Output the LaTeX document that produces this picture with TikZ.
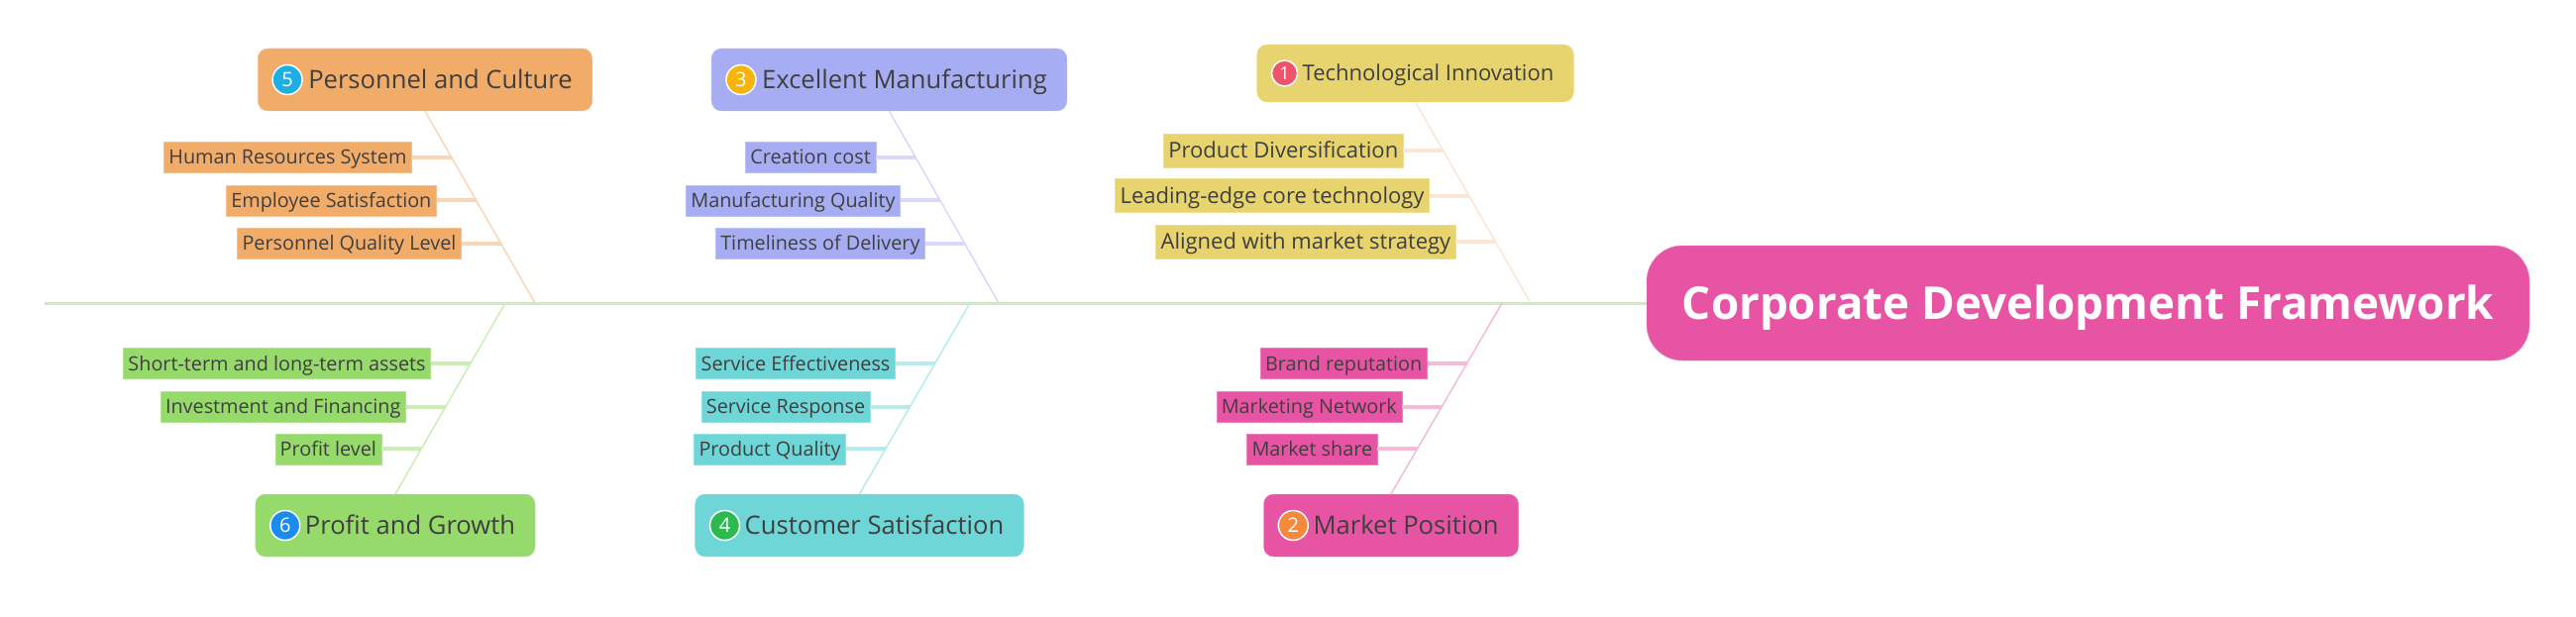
\documentclass[tikz,border=0pt]{standalone}
\usepackage{fontspec}
\setmainfont{Open Sans}
\usetikzlibrary{positioning,calc}

\definecolor{inkgray}{HTML}{3F3F3F}
\definecolor{rootpink}{HTML}{E854A4}
\definecolor{spinegreen}{HTML}{C9EEB6}
% box colours
\definecolor{colA}{HTML}{E8D46E}
\definecolor{colB}{HTML}{E854A4}
\definecolor{colC}{HTML}{A6ADF2}
\definecolor{colD}{HTML}{6FD6D7}
\definecolor{colE}{HTML}{F2AC6A}
\definecolor{colF}{HTML}{95DA6B}
% badge colours
\definecolor{numA}{HTML}{F1536A}
\definecolor{numB}{HTML}{F5893C}
\definecolor{numC}{HTML}{F7B30A}
\definecolor{numD}{HTML}{2BBA4E}
\definecolor{numE}{HTML}{1FAEE3}
\definecolor{numF}{HTML}{1B8BEF}
% line colours
\definecolor{twigA}{HTML}{FBE6D6}
\definecolor{twigB}{HTML}{F5B9DA}
\definecolor{twigC}{HTML}{D6D9FA}
\definecolor{twigD}{HTML}{B4ECEC}
\definecolor{twigE}{HTML}{F8D6B8}
\definecolor{twigF}{HTML}{CBEEB5}

\tikzset{
  rootbox/.style={rounded corners=36pt, fill=rootpink, draw=rootpink!70!white,
    text=white, minimum width=891pt, minimum height=116pt,
    text height=33pt, text depth=0pt,
    font=\bfseries\fontsize{45.7pt}{54pt}\selectfont},
  spine/.style={draw=spinegreen, line width=3pt},
  cat/.style={rounded corners=10pt, fill=#1, draw=#1!80!white, text=inkgray,
    minimum height=63pt, inner xsep=20pt, inner ysep=0pt,
    text height=18.5pt, text depth=0pt,
    font=\fontsize{25.6pt}{30pt}\selectfont},
  badge/.style={circle, fill=#1, draw=white, line width=1.5pt, minimum size=30pt,
    inner sep=0pt, text=white, font=\fontsize{20pt}{24pt}\selectfont},
  leaf/.style={fill=#1, draw=#1!75!white, text=inkgray, minimum height=31pt,
    inner xsep=5pt, inner ysep=0pt, text height=14pt, text depth=0pt,
    font=\fontsize{19.8pt}{24pt}\selectfont},
  bone/.style={draw=#1, line width=1.5pt},
  twig/.style={draw=#1, line width=4pt},
}

\begin{document}
\begin{tikzpicture}[x=1pt, y=-1pt]
  \useasboundingbox (0,0) rectangle (2600,623);

  % Head
  \node[rootbox] (root) at (2107.5,306) {Corporate Development Framework};

  % Spine
  \coordinate (tail) at (45,306);
  \draw[spine] (tail) -- (root.west);

  % Upper categories
  \node[cat=colE] (c5) at (429,80.5) {\hspace*{31pt}Personnel and Culture};
  \node[cat=colC] (c3) at (897.5,80.5) {\hspace*{31pt}Excellent Manufacturing};
  \node[cat=colA, minimum height=58pt, text height=16pt, font=\fontsize{22pt}{26pt}\selectfont] (c1) at (1428.5,74) {\hspace*{26pt}Technological Innovation};

  % Lower categories
  \node[cat=colF] (c6) at (399,530.5) {\hspace*{30pt}Profit and Growth};
  \node[cat=colD] (c4) at (867.5,530.5) {\hspace*{30pt}Customer Satisfaction};
  \node[cat=colB] (c2) at (1404,530.5) {\hspace*{30pt}Market Position};

  % Badges
  \node[badge=numE] (b5) at ([xshift=30pt]c5.west) {5};
  \node[badge=numC] (b3) at ([xshift=30pt]c3.west) {3};
  \node[badge=numA, minimum size=26pt, font=\fontsize{18pt}{22pt}\selectfont] (b1) at ([xshift=28pt]c1.west) {1};
  \node[badge=numF] (b6) at ([xshift=30pt]c6.west) {6};
  \node[badge=numD] (b4) at ([xshift=30pt]c4.west) {4};
  \node[badge=numB] (b2) at ([xshift=30pt]c2.west) {2};

  % Bones meeting the spine
  \coordinate (s5) at (540,306);
  \coordinate (s3) at (1008,306);
  \coordinate (s1) at (1545,306);
  \coordinate (s6) at (510,306);
  \coordinate (s4) at (979,306);
  \coordinate (s2) at (1516,306);
  \draw[bone=twigE] (c5.south) -- (s5);
  \draw[bone=twigC] (c3.south) -- (s3);
  \draw[bone=twigA] (c1.south) -- (s1);
  \draw[bone=twigF] (c6.north) -- (s6);
  \draw[bone=twigD] (c4.north) -- (s4);
  \draw[bone=twigB] (c2.north) -- (s2);

  % Leaves of the upper bones
  \foreach \pos/\lbl [count=\i] in {0.24/Human Resources System, 0.465/Employee Satisfaction, 0.69/Personnel Quality Level} {
    \coordinate (p5\i) at ($(c5.south)!\pos!(s5)$);
    \node[leaf=colE, left=40pt of p5\i] (l5\i) {\lbl};
    \draw[twig=twigE] (l5\i) -- (p5\i);
  }
  \foreach \pos/\lbl [count=\i] in {0.24/Creation cost, 0.465/Manufacturing Quality, 0.69/Timeliness of Delivery} {
    \coordinate (p3\i) at ($(c3.south)!\pos!(s3)$);
    \node[leaf=colC, left=40pt of p3\i] (l3\i) {\lbl};
    \draw[twig=twigC] (l3\i) -- (p3\i);
  }
  \foreach \pos/\lbl [count=\i] in {0.24/Product Diversification, 0.465/Leading-edge core technology, 0.695/Aligned with market strategy} {
    \coordinate (p1\i) at ($(c1.south)!\pos!(s1)$);
    \node[leaf=colA, minimum height=34pt, text height=15.5pt, font=\fontsize{22pt}{26pt}\selectfont, left=40pt of p1\i] (l1\i) {\lbl};
    \draw[twig=twigA] (l1\i) -- (p1\i);
  }

  % Leaves of the lower bones
  \foreach \pos/\lbl [count=\i] in {0.683/Short-term and long-term assets, 0.456/Investment and Financing, 0.235/Profit level} {
    \coordinate (p6\i) at ($(c6.north)!\pos!(s6)$);
    \node[leaf=colF, left=40pt of p6\i] (l6\i) {\lbl};
    \draw[twig=twigF] (l6\i) -- (p6\i);
  }
  \foreach \pos/\lbl [count=\i] in {0.683/Service Effectiveness, 0.456/Service Response, 0.235/Product Quality} {
    \coordinate (p4\i) at ($(c4.north)!\pos!(s4)$);
    \node[leaf=colD, left=40pt of p4\i] (l4\i) {\lbl};
    \draw[twig=twigD] (l4\i) -- (p4\i);
  }
  \foreach \pos/\lbl [count=\i] in {0.683/Brand reputation, 0.456/Marketing Network, 0.235/Market share} {
    \coordinate (p2\i) at ($(c2.north)!\pos!(s2)$);
    \node[leaf=colB, left=40pt of p2\i] (l2\i) {\lbl};
    \draw[twig=twigB] (l2\i) -- (p2\i);
  }
\end{tikzpicture}
\end{document}
